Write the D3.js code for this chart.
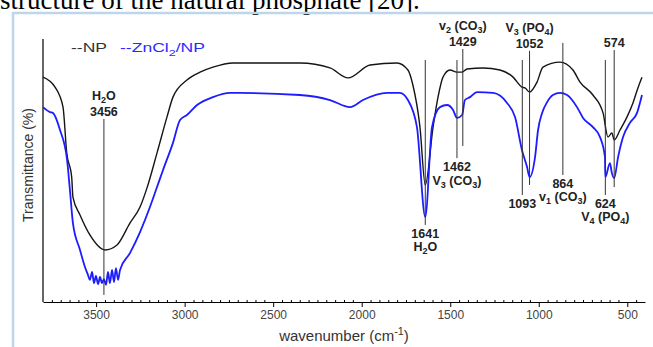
<!DOCTYPE html>
<html>
<head>
<meta charset="utf-8">
<script src="https://cdn.jsdelivr.net/npm/d3@7"></script>
<style>
  body { margin: 0; background: #fff; }
  svg { display: block; }
  .axis text { font-family: "Liberation Sans", Arial, sans-serif; font-size: 12px; fill: #444; }
  .axis path, .axis line { stroke: #000; }
  .peak text { font-family: "Liberation Sans", Arial, sans-serif; font-size: 12.5px; font-weight: bold; fill: #222; }
</style>
</head>
<body>
<div id="chart"></div>
<script>
// spectrum of natural phosphate (black)
const npWave = [3800, 3732, 3687, 3666, 3638, 3631, 3591, 3535, 3450, 3382, 3309, 3252, 3213, 3156, 3100,
  3066, 2987, 2913, 2840, 2727, 2349, 2179, 2077, 1953, 1801, 1739, 1711, 1671, 1641, 1597, 1569, 1541,
  1501, 1462, 1433, 1405, 1315, 1219, 1145, 1095, 1078, 1052, 1010, 976, 880, 807, 767, 694, 637, 609,
  587, 574, 541, 502, 468, 440, 417];
const npT = [85.5, 81.7, 74.1, 56.7, 47.5, 39.9, 33.1, 25.5, 19.8, 21.7, 30.0, 36.1, 43.3, 56.7, 70.3,
  77.9, 84.4, 87.4, 89.3, 90.9, 90.9, 89.0, 85.2, 90.1, 90.9, 88.2, 82.5, 66.5, 44.5, 66.5, 77.9, 85.5,
  88.2, 87.4, 87.4, 88.6, 89.0, 88.2, 85.5, 81.7, 81.4, 79.8, 83.6, 89.3, 91.2, 88.2, 83.6, 78.7, 71.9, 62.7,
  64.3, 61.6, 65.4, 70.3, 75.7, 81.4, 85.5];

// spectrum of ZnCl2 / natural phosphate (blue)
const znWave = [3800, 3760, 3744, 3704, 3664, 3648, 3631, 3591, 3563, 3546, 3535, 3523, 3512, 3501, 3489,
  3478, 3467, 3456, 3444, 3433, 3422, 3410, 3399, 3388, 3376, 3365, 3309, 3252, 3196, 3156, 3122, 3066,
  3026, 2987, 2930, 2840, 2744, 2687, 2349, 2179, 2066, 1993, 1857, 1784, 1739, 1688, 1641, 1603, 1558,
  1518, 1484, 1462, 1433, 1417, 1388, 1349, 1258, 1179, 1134, 1095, 1066, 1052, 1021, 1004, 981, 953,
  920, 880, 840, 784, 750, 694, 654, 626, 624, 598, 587, 574, 552, 524, 485, 445, 417];
const znT = [74.1, 72.2, 71.9, 65.4, 54.0, 42.6, 30.0, 19.8, 13.3, 10.3, 8.4, 11.4, 7.2, 9.9, 6.8,
  9.5, 7.2, 8.7, 6.5, 11.4, 7.2, 12.2, 7.6, 12.9, 8.4, 12.2, 18.6, 26.6, 36.1, 43.7, 50.2, 60.5,
  69.2, 71.1, 74.9, 77.9, 79.5, 79.5, 78.7, 76.8, 74.1, 76.8, 79.5, 79.5, 76.8, 66.5, 32.3, 66.5, 74.1,
  74.9, 73.0, 70.0, 71.1, 76.8, 77.9, 79.8, 79.5, 75.7, 70.3, 57.8, 51.3, 47.5, 55.1, 65.4, 71.9, 76.0,
  78.7, 79.5, 78.7, 74.1, 70.0, 66.5, 62.7, 55.1, 47.5, 52.8, 49.0, 47.1, 55.1, 62.7, 68.1, 71.9, 78.7];

const xTicks = [3500, 3000, 2500, 2000, 1500, 1000, 500];
const seriesNames = ["--NP", "--ZnCl_2/NP"];

// band assignments: wavenumber, line extent (transmittance), text above / below the line
const peakWave = [3456, 1641, 1462, 1429, 1093, 1052, 864, 624, 574];
const peakTop = [69.6, 92.0, 92.0, 96.2, 92.0, 95.5, 98.5, 92.0, 95.8];
const peakBottom = [2.7, 29.3, 54.7, 59.3, 40.7, 44.5, 48.3, 40.7, 43.7];
const peakAbove = [["H_2O", "3456"], [], [], ["v_2 (CO_3)", "1429"], [], ["V_3 (PO_4)", "1052"], [], [], ["574"]];
const peakBelow = [[], ["1641", "H_2O"], ["1462", "V_3 (CO_3)"], [], ["1093"], [], ["864", "v_1 (CO_3)"], ["624", "V_4 (PO_4)"], []];

const width = 653, height = 347;
const mLeft = 43, mRight = 645, mTop = 39, mBottom = 302;

const svg = d3.select("#chart").append("svg")
  .attr("width", width)
  .attr("height", height);

// page context: caption line above and frame of the figure
svg.append("text")
  .attr("x", 0)
  .attr("y", 9)
  .style("font-family", "'Liberation Serif', 'Times New Roman', serif")
  .style("font-size", "27px")
  .style("fill", "#000")
  .text("structure of the natural phosphate [20].");

svg.append("path")
  .attr("d", `M 13,${height} L 13,13 L ${width},13`)
  .attr("fill", "none")
  .style("stroke", "#bcd6ee")
  .style("stroke-width", 2.5);

const x = d3.scaleLinear().domain([3800, 400]).range([mLeft, mRight]);
const y = d3.scaleLinear().domain([0, 100]).range([mBottom, mTop]);

// text with _x subscripts and ^x superscripts
function rich(sel, str, sub) {
  const parts = str.split(/(_\w|\^-?\d+)/).filter(s => s.length);
  let shift = 0;
  for (let p of parts) {
    let t = sel.append("tspan");
    if (p[0] == "_" || p[0] == "^") {
      let d = p[0] == "_" ? sub : -sub * 1.5;
      t.attr("dy", d - shift).style("font-size", "0.72em").text(p.slice(1));
      shift = d;
    } else {
      t.attr("dy", -shift).text(p);
      shift = 0;
    }
  }
}

// x axis with minor ticks
const minor = d3.range(3750, 400, -50).filter(d => xTicks.indexOf(d) < 0);
svg.append("g")
  .attr("class", "axis")
  .attr("transform", `translate(0,${mBottom - 2})`)
  .call(d3.axisBottom(x).tickValues(minor).tickSize(3).tickFormat(""))
  .call(g => g.select(".domain").remove());

svg.append("g")
  .attr("class", "axis")
  .attr("transform", `translate(0,${mBottom})`)
  .call(d3.axisBottom(x).tickValues(xTicks).tickSizeInner(5).tickSizeOuter(0).tickPadding(3).tickFormat(d3.format("d")));

// y axis: plain line
svg.append("path")
  .attr("d", `M ${mLeft},${mTop} L ${mLeft},${mBottom}`)
  .style("stroke", "#000")
  .style("stroke-width", 1.2);

// axis titles
let xt = svg.append("text")
  .attr("x", (mLeft + mRight) / 2)
  .attr("y", 341)
  .attr("text-anchor", "middle")
  .style("font-family", "'Liberation Sans', Arial, sans-serif")
  .style("font-size", "15px")
  .style("fill", "#333");
rich(xt, "wavenumber (cm^-1)", 4);

svg.append("text")
  .attr("transform", "translate(33,165) rotate(-90)")
  .attr("text-anchor", "middle")
  .style("font-family", "'Liberation Sans', Arial, sans-serif")
  .style("font-size", "14px")
  .style("fill", "#333")
  .text("Transmittance (%)");

// spectra
const line = d3.line()
  .x(d => x(d[0]))
  .y(d => y(d[1]))
  .curve(d3.curveMonotoneX);

svg.append("path")
  .datum(npWave.map((w, i) => [w, npT[i]]))
  .attr("d", line)
  .attr("fill", "none")
  .style("stroke", "#151515")
  .style("stroke-width", 1.4);

svg.append("path")
  .datum(znWave.map((w, i) => [w, znT[i]]))
  .attr("d", line)
  .attr("fill", "none")
  .style("stroke", "#1c1cff")
  .style("stroke-width", 1.8);

// legend (text is drawn wide, as in the original figure)
const legendColors = ["#333", "#2a2aff"];
const legendX = [71, 120];
const legendLen = [36, 85];
seriesNames.forEach((s, i) => {
  let t = svg.append("text")
    .attr("x", legendX[i])
    .attr("y", 52)
    .attr("textLength", legendLen[i])
    .attr("lengthAdjust", "spacingAndGlyphs")
    .style("font-family", "'Liberation Sans', Arial, sans-serif")
    .style("font-size", "13px")
    .style("fill", legendColors[i]);
  rich(t, s, 4);
});

// band markers
const peaks = svg.selectAll("g.peak")
  .data(peakWave.map((w, i) => ({ w: w, top: peakTop[i], bottom: peakBottom[i], above: peakAbove[i], below: peakBelow[i] })))
  .enter()
  .append("g")
  .attr("class", "peak");

peaks.append("path")
  .attr("d", d => `M ${x(d.w)},${y(d.top)} L ${x(d.w)},${y(d.bottom)}`)
  .style("stroke", "#333")
  .style("stroke-width", 1);

peaks.each(function(d) {
  let g = d3.select(this);
  d.above.forEach((s, i) => {
    let t = g.append("text")
      .attr("x", x(d.w))
      .attr("y", y(d.top) - 3 - (d.above.length - 1 - i) * 16)
      .attr("text-anchor", "middle");
    rich(t, s, 3);
  });
  d.below.forEach((s, i) => {
    let t = g.append("text")
      .attr("x", x(d.w))
      .attr("y", y(d.bottom) + 13 + i * 13.5)
      .attr("text-anchor", "middle");
    rich(t, s, 3);
  });
});
</script>
</body>
</html>
